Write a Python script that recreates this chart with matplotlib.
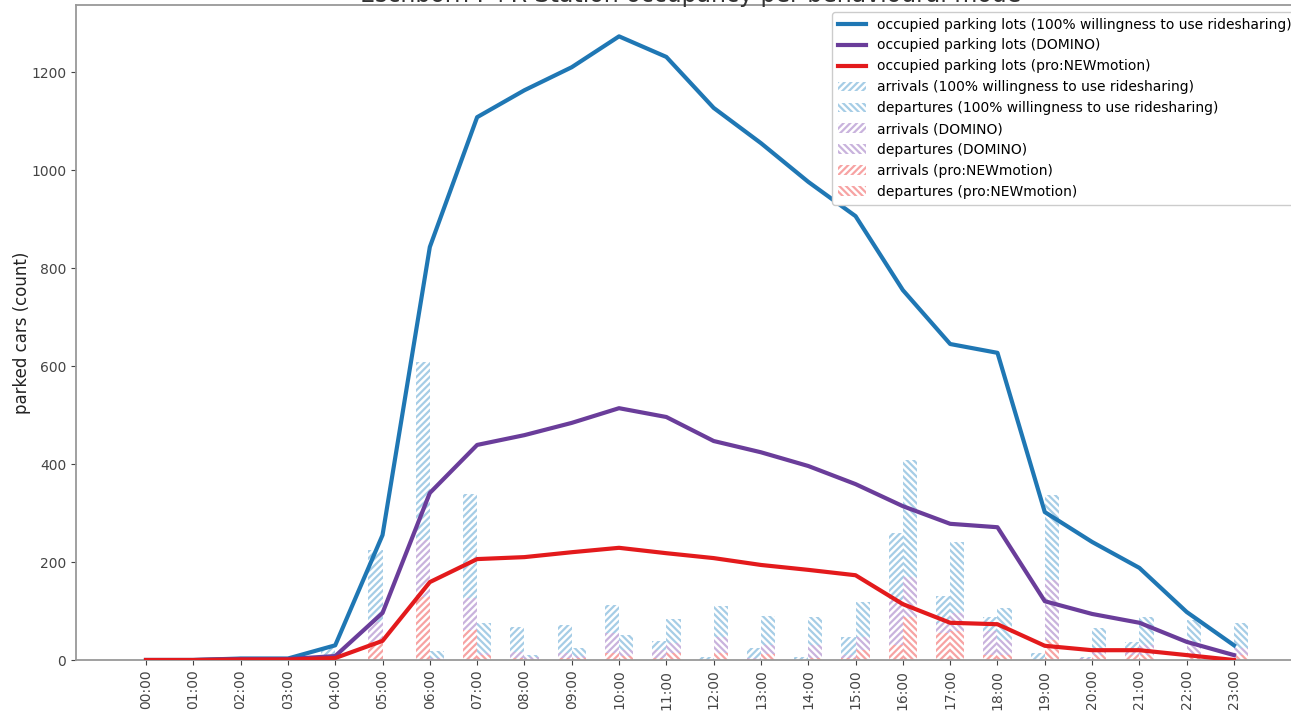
import matplotlib
matplotlib.use("Agg")
import matplotlib.pyplot as plt
import numpy as np

hours = [f"{h:02d}:00" for h in range(24)]

occ_full = [0, 0, 3, 3, 30, 255, 843, 1108, 1163, 1210, 1273, 1231,
            1127, 1055, 976, 906, 755, 645, 627, 302, 241, 188, 98, 30]
occ_domino = [0, 0, 2, 2, 8, 96, 341, 439, 459, 484, 514, 496,
              447, 424, 396, 359, 314, 278, 271, 120, 94, 76, 37, 10]
occ_pro = [0, 0, 1, 1, 4, 39, 159, 206, 210, 220, 229, 218,
           208, 194, 184, 173, 114, 76, 73, 29, 20, 20, 10, 0]

arr_full = [0, 0, 3, 0, 27, 225, 608, 339, 67, 71, 112, 39,
            6, 24, 6, 47, 259, 131, 88, 14, 6, 37, 0, 0]
dep_full = [0, 0, 0, 0, 0, 0, 18, 75, 10, 24, 51, 84,
            110, 90, 88, 118, 408, 241, 106, 337, 65, 88, 82, 75]
arr_domino = [0, 0, 2, 0, 6, 78, 245, 127, 16, 14, 55, 20,
              0, 5, 0, 10, 122, 75, 60, 0, 4, 20, 0, 0]
dep_domino = [0, 0, 0, 0, 0, 0, 4, 14, 6, 8, 20, 35,
              47, 30, 30, 47, 170, 95, 40, 163, 20, 30, 30, 25]
arr_pro = [0, 0, 1, 0, 4, 37, 128, 61, 5, 4, 15, 4,
           0, 2, 0, 5, 30, 55, 10, 0, 0, 10, 0, 0]
dep_pro = [0, 0, 0, 0, 0, 0, 3, 10, 3, 4, 8, 14,
           14, 12, 5, 20, 88, 60, 10, 40, 10, 10, 10, 10]

blue = "#1f77b4"
purple = "#6a3d9a"
red = "#e31a1c"

# pale hatch colours for the bars
blue_l = "#a6cde6"
purple_l = "#c9b3dd"
red_l = "#f7a3a3"

x = np.arange(len(hours))
w = 0.3

plt.rcParams["hatch.linewidth"] = 1.6

fig = plt.figure(figsize=(12.91, 7.11), dpi=100)
ax = fig.add_axes([76 / 1291, 51 / 711, 1228 / 1291, 655 / 711])

ax.plot(x, occ_full, color=blue, lw=3, zorder=5,
        label="occupied parking lots (100% willingness to use ridesharing)")
ax.plot(x, occ_domino, color=purple, lw=3, zorder=5, label="occupied parking lots (DOMINO)")
ax.plot(x, occ_pro, color=red, lw=3, zorder=5, label="occupied parking lots (pro:NEWmotion)")

for arr, dep, col, name in [(arr_full, dep_full, blue_l, "100% willingness to use ridesharing"),
                            (arr_domino, dep_domino, purple_l, "DOMINO"),
                            (arr_pro, dep_pro, red_l, "pro:NEWmotion")]:
    ax.bar(x, arr, width=-w, align="edge", facecolor="white", edgecolor=col,
           hatch="/////", lw=0, label=f"arrivals ({name})")
    ax.bar(x, dep, width=w, align="edge", facecolor="white", edgecolor=col,
           hatch="\\\\\\\\\\", lw=0, label=f"departures ({name})")

ax.set_ylim(0, 1337)
ax.set_xticks(x)
ax.set_xticklabels(hours, rotation=90)
ax.set_yticks(range(0, 1201, 200))
ax.tick_params(labelsize=10, colors="#444444")
for s in ax.spines.values():
    s.set_color("#999999")
    s.set_linewidth(1.3)
ax.set_ylabel("parked cars (count)", fontsize=12, color="#222222")
ax.yaxis.set_label_coords(-0.037, 0.5)

fig.text(0.535, 1 - 2 / 711, "Eschborn P+R Station occupancy per behavioural mode",
         ha="center", va="baseline", fontsize=17, color="#333333")

handles, labels = ax.get_legend_handles_labels()
ax.legend(handles, labels, loc="upper right", fontsize=10, framealpha=1)

fig.savefig("out.png", dpi=100)
